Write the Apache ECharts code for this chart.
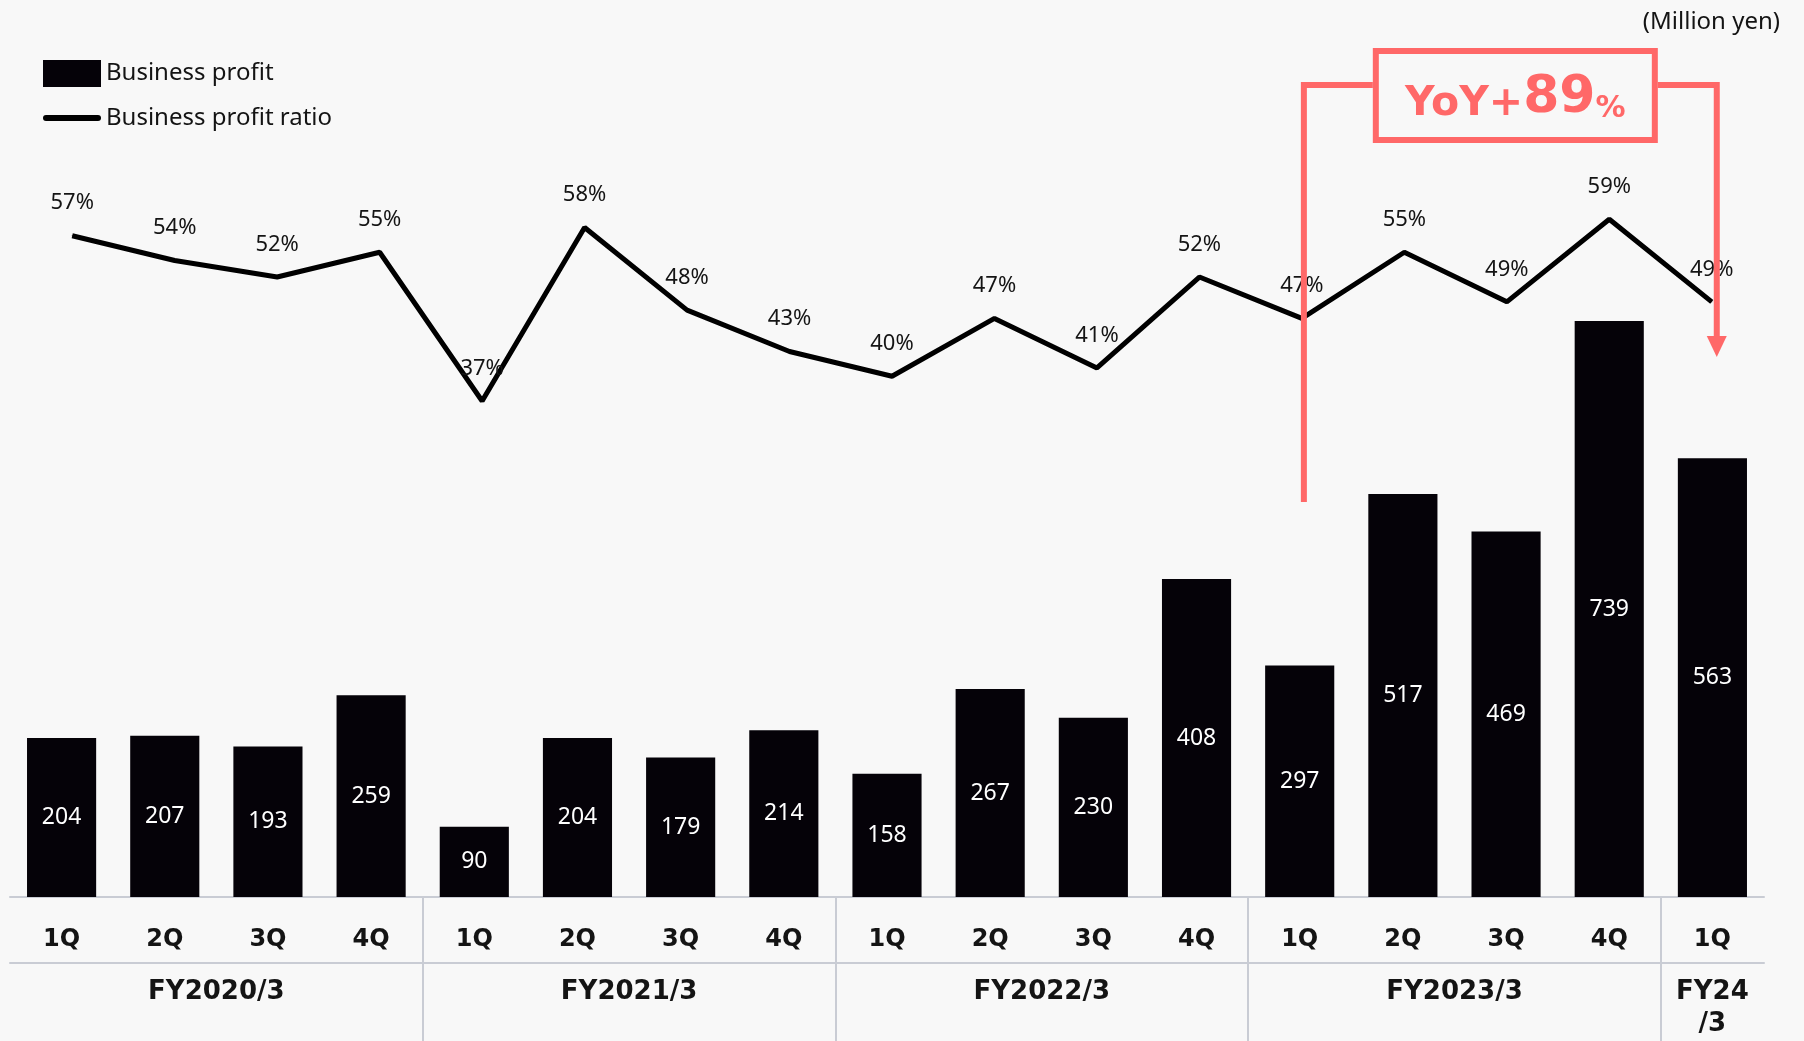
<!DOCTYPE html>
<html>
<head>
<meta charset="utf-8">
<script src="https://cdn.jsdelivr.net/npm/echarts@6/dist/echarts.min.js"></script>
<style>
  html, body { margin: 0; padding: 0; background: #f8f8f8; }
  #chart { width: 1804px; height: 1041px; }
</style>
</head>
<body>
<div id="chart"></div>
<script>
// Quarterly business profit (million yen) and business profit ratio (%)
const quarters = ['1Q', '2Q', '3Q', '4Q', '1Q', '2Q', '3Q', '4Q', '1Q', '2Q', '3Q', '4Q', '1Q', '2Q', '3Q', '4Q', '1Q'];
const businessProfit = [204, 207, 193, 259, 90, 204, 179, 214, 158, 267, 230, 408, 297, 517, 469, 739, 563];
const profitRatio = [57, 54, 52, 55, 37, 58, 48, 43, 40, 47, 41, 52, 47, 55, 49, 59, 49];
const fiscalYears = ['FY2020/3', 'FY2021/3', 'FY2022/3', 'FY2023/3', 'FY24\n/3'];
const quartersPerYear = [4, 4, 4, 4, 1];
const yoyText = { prefix: 'YoY+', value: '89', suffix: '%' };

// Fiscal-year group centres and separators on a 0..N quarter scale
const yearCentres = [];
const yearBounds = [];
let acc = 0;
quartersPerYear.forEach((n, i) => {
  yearCentres.push(acc + n / 2);
  acc += n;
  if (i < quartersPerYear.length - 1) yearBounds.push(acc);
});
const totalQuarters = acc;

const GRID_GRAY = '#c9ccd4';
const TEXT = '#141414';
const RED = '#ff6868';

const chart = echarts.init(document.getElementById('chart'), null, { renderer: 'canvas' });

const option = {
  backgroundColor: '#f8f8f8',
  animation: false,
  legend: {
    orient: 'vertical',
    left: 38,
    top: 55,
    itemWidth: 58,
    itemHeight: 27,
    itemGap: 19,
    selectedMode: false,
    textStyle: { fontFamily: 'Noto Sans', fontSize: 24, color: TEXT },
    data: [
      { name: 'Business profit', icon: 'rect' },
      { name: 'Business profit ratio', icon: 'path://M3,0 H55 A3,3 0 0 1 55,6 H3 A3,3 0 0 1 3,0 Z' }
    ]
  },
  grid: [
    { left: 10, right: 40, top: 120, bottom: 144 },
    { left: 21, right: 41, top: 120, bottom: 144 }
  ],
  xAxis: [
    {
      type: 'category',
      gridIndex: 0,
      data: quarters,
      axisLine: { lineStyle: { color: GRID_GRAY, width: 2 } },
      axisTick: { show: false },
      axisLabel: {
        margin: 31,
        fontFamily: 'DejaVu Sans',
        fontWeight: 'bold',
        fontSize: 24,
        color: TEXT
      }
    },
    {
      type: 'value',
      gridIndex: 0,
      position: 'bottom',
      min: 0,
      max: totalQuarters,
      axisLine: { show: false },
      splitLine: { show: false },
      axisTick: {
        show: true,
        customValues: yearBounds,
        length: 144,
        lineStyle: { color: GRID_GRAY, width: 2 }
      },
      axisLabel: {
        show: true,
        customValues: yearCentres,
        formatter: (v) => {
          const i = yearCentres.indexOf(v);
          return i >= 0 ? fiscalYears[i] : '';
        },
        margin: 79,
        lineHeight: 32,
        fontFamily: 'DejaVu Sans',
        fontWeight: 'bold',
        fontSize: 26,
        color: TEXT
      }
    },
    {
      type: 'value',
      gridIndex: 0,
      position: 'bottom',
      offset: 66,
      min: 0,
      max: totalQuarters,
      axisLine: { show: true, lineStyle: { color: GRID_GRAY, width: 2 } },
      axisTick: { show: false },
      axisLabel: { show: false },
      splitLine: { show: false }
    },
    {
      type: 'category',
      gridIndex: 1,
      data: quarters,
      show: false
    }
  ],
  yAxis: [
    { type: 'value', gridIndex: 0, min: 0, max: 997, show: false },
    { type: 'value', gridIndex: 1, min: -23, max: 71, show: false }
  ],
  series: [
    {
      name: 'Business profit',
      type: 'bar',
      xAxisIndex: 0,
      yAxisIndex: 0,
      data: businessProfit,
      barWidth: '67%',
      itemStyle: { color: '#050208' },
      label: {
        show: true,
        position: 'inside',
        color: '#ffffff',
        fontFamily: 'Noto Sans',
        fontSize: 23
      }
    },
    {
      name: 'Business profit ratio',
      type: 'line',
      xAxisIndex: 3,
      yAxisIndex: 1,
      data: profitRatio,
      z: 3,
      symbol: 'circle',
      symbolSize: 1,
      itemStyle: { color: '#000000' },
      lineStyle: { color: '#000000', width: 5 },
      label: {
        show: true,
        position: 'top',
        distance: 21,
        formatter: '{c}%',
        color: TEXT,
        fontFamily: 'Noto Sans',
        fontSize: 22
      }
    }
  ]
};

chart.setOption(option);

// YoY bracket from 1Q FY2023/3 to 1Q FY24/3, anchored on the ratio axis categories
const xFrom = chart.convertToPixel({ xAxisIndex: 3 }, 12) + 2;
const xTo = chart.convertToPixel({ xAxisIndex: 3 }, quarters.length - 1) + 5;
const boxW = 279, boxH = 89, boxTop = 51;
const boxCx = (xFrom + xTo) / 2 + 5;
const boxL = boxCx - boxW / 2, boxR = boxCx + boxW / 2;
const bracketY = 85;

chart.setOption({
  graphic: [
    {
      type: 'text',
      right: 24,
      top: 10,
      style: { text: '(Million yen)', font: '24px "Noto Sans"', fill: TEXT }
    },
    {
      type: 'polyline',
      z: 100,
      shape: { points: [[xFrom, 502], [xFrom, bracketY], [boxL - 3, bracketY]] },
      style: { stroke: RED, lineWidth: 6, fill: null }
    },
    {
      type: 'polyline',
      z: 100,
      shape: { points: [[boxR + 3, bracketY], [xTo, bracketY], [xTo, 340]] },
      style: { stroke: RED, lineWidth: 6, fill: null }
    },
    {
      type: 'polygon',
      z: 100,
      shape: { points: [[xTo - 10, 336], [xTo + 10, 336], [xTo, 357]] },
      style: { fill: RED }
    },
    {
      type: 'rect',
      z: 100,
      shape: { x: boxL, y: boxTop, width: boxW, height: boxH },
      style: { stroke: RED, lineWidth: 6, fill: '#f8f8f8' }
    },
    {
      type: 'text',
      z: 101,
      x: boxCx,
      y: boxTop + boxH / 2 + 3,
      style: {
        text: '{a|' + yoyText.prefix + '}{b|' + yoyText.value + '}{c|' + yoyText.suffix + '}',
        align: 'center',
        verticalAlign: 'middle',
        rich: {
          a: { font: 'bold 41px "DejaVu Sans"', fill: RED, verticalAlign: 'bottom' },
          b: { font: 'bold 52px "DejaVu Sans"', fill: RED, verticalAlign: 'bottom' },
          c: { font: 'bold 30px "DejaVu Sans"', fill: RED, verticalAlign: 'bottom' }
        }
      }
    }
  ]
});
</script>
</body>
</html>
